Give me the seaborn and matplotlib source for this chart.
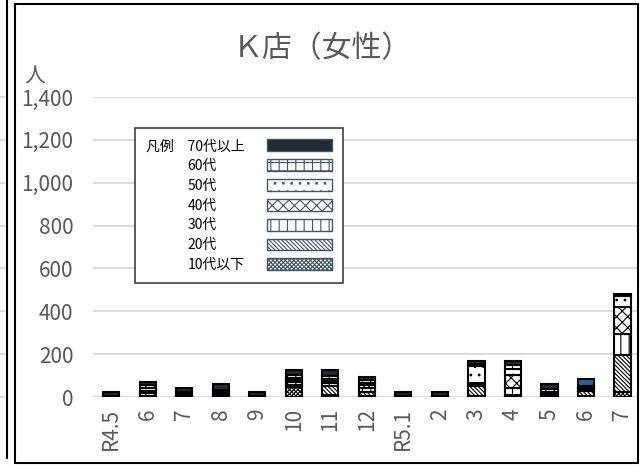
import numpy as np
import pandas as pd
import seaborn as sns
import matplotlib.pyplot as plt
import matplotlib.ticker as mtick
from matplotlib.patches import Patch, Rectangle
from matplotlib.lines import Line2D

months = ['R4.5', '6', '7', '8', '9', '10', '11', '12', 'R5.1', '2', '3', '4', '5', '6', '7']
ages = ['10代以下', '20代', '30代', '40代', '50代', '60代', '70代以上']

age_10 = [0, 0, 0, 0, 0, 45, 10, 5, 0, 0, 5, 5, 0, 5, 23]
age_20 = [0, 5, 0, 5, 0, 10, 40, 20, 0, 0, 45, 5, 5, 25, 171]
age_30 = [0, 15, 5, 5, 0, 15, 15, 15, 0, 0, 8, 30, 5, 5, 101]
age_40 = [0, 10, 5, 5, 0, 10, 10, 15, 0, 0, 7, 65, 5, 5, 125]
age_50 = [0, 10, 5, 10, 0, 10, 10, 10, 0, 0, 80, 25, 10, 5, 50]
age_60 = [5, 15, 7, 10, 5, 15, 15, 14, 5, 5, 10, 20, 12, 6, 5]
age_70 = [17, 15, 20, 25, 17, 20, 25, 15, 17, 17, 15, 18, 25, 35, 8]

hatches = {'10代以下': 'xxxxxxxx', '20代': '\\\\\\\\\\\\\\\\', '30代': '||', '40代': 'xxx',
           '50代': '..', '60代': '++', '70代以上': ''}
navy = '#222a35'
grey = '#595959'

sns.set_theme(style='white')
plt.rcParams['font.family'] = ['Noto Sans CJK JP', 'DejaVu Sans']
plt.rcParams['hatch.linewidth'] = 0.8

rows = []
for age, vals in zip(ages, [age_10, age_20, age_30, age_40, age_50, age_60, age_70]):
    for i, v in enumerate(vals):
        rows.append({'idx': i, 'age': age, 'count': v})
df = pd.DataFrame(rows)

key_colors = dict(zip(ages, sns.color_palette('tab10', len(ages))))

fig = plt.figure(figsize=(6.44, 4.66), dpi=100)
ax = fig.add_axes([93 / 644, 1 - 397 / 466, 545 / 644, 300 / 466])
# seaborn puts the first hue level on top of the stack
sns.histplot(data=df, x='idx', weights='count', hue='age', hue_order=ages[::-1],
             multiple='stack', discrete=True, shrink=0.45, palette=key_colors,
             alpha=1, legend=False, ax=ax)

# restyle each segment by its hue colour
for p in ax.patches:
    rgb = np.array(p.get_facecolor()[:3])
    age = min(ages, key=lambda a: np.abs(np.array(key_colors[a]) - rgb).sum())
    if p.get_height() <= 0:
        p.set_visible(False)
        continue
    p.set_facecolor(navy if age == '70代以上' else 'white')
    p.set_edgecolor('black')
    p.set_linewidth(1.5)
    p.set_hatch(hatches[age])
    if age == '70代以上' and round(p.get_x() + p.get_width() / 2) == 13:
        p.set_facecolor('#2e6294')

ax.set_xlim(-0.5, 14.43)
ax.set_ylim(0, 1400)
ax.set_yticks(range(0, 1401, 200))
ax.yaxis.set_major_formatter(mtick.StrMethodFormatter('{x:,.0f}'))
ax.set_xticks(range(len(months)))
ax.set_xticklabels(months, rotation=90)
ax.tick_params(axis='both', length=0, labelsize=15, colors=grey)
ax.tick_params(axis='y', pad=14)
ax.tick_params(axis='x', pad=8)
ax.set_xlabel('')
ax.set_ylabel('')
ax.yaxis.grid(True, color='#d9d9d9', lw=1.3)
ax.set_axisbelow(True)
for s in ax.spines.values():
    s.set_visible(False)

fig.text(0.5, 1 - 49 / 466, 'Ｋ店（女性）', ha='center', va='center', fontsize=21.5, color=grey)
fig.text(24 / 644, 1 - 77 / 466, '人', ha='left', va='center', fontsize=15, color=grey)

# legend with text on the left, swatches on the right
lfs = 10
handles = [Patch(facecolor=navy if a == '70代以上' else 'white', edgecolor='#44546a',
                 hatch=hatches[a], lw=1) for a in ages[::-1]]
labels = ['凡例\u300070代以上'] + ages[::-1][1:]
leg = fig.legend(handles, labels, loc='upper left', bbox_to_anchor=(135 / 644, 1 - 128 / 466),
                 bbox_transform=fig.transFigure, borderaxespad=0, markerfirst=False,
                 fontsize=lfs, handlelength=4.7, handleheight=0.95, labelspacing=0.42,
                 handletextpad=1.6, borderpad=0.8, fancybox=False, framealpha=1)
leg.get_frame().set_edgecolor('#404040')
leg.get_frame().set_linewidth(1.2)
for t in leg.get_texts():
    t.set_color('black')

fig.canvas.draw()
r = fig.canvas.get_renderer()
pt = r.points_to_pixels(1.0)
tmp = fig.text(0, 0, '70代以上', fontsize=lfs)
w_ref = tmp.get_window_extent(r).width
tmp.remove()
base = leg.handletextpad * lfs
items = leg._legend_handle_box.get_children()[0].get_children()
for item, t in zip(items[1:], leg.get_texts()[1:]):
    item.sep = base + (w_ref - t.get_window_extent(r).width) / pt

# outer frame and the edge of the neighbouring chart
fig.add_artist(Rectangle((15 / 644, 1 - 463 / 466), 623 / 644, 459 / 466, transform=fig.transFigure,
                         fill=False, edgecolor='black', lw=1.5, zorder=10))
fig.add_artist(Line2D([7 / 644, 7 / 644], [1 - 458 / 466, 1], transform=fig.transFigure,
                      color='black', lw=1.5))
for yv in range(0, 1401, 200):
    yy = 1 - (397 - yv * 300 / 1400) / 466
    fig.add_artist(Line2D([0, 5 / 644], [yy, yy], transform=fig.transFigure, color='#d9d9d9', lw=1.3))

fig.savefig('out.png', dpi=100)
